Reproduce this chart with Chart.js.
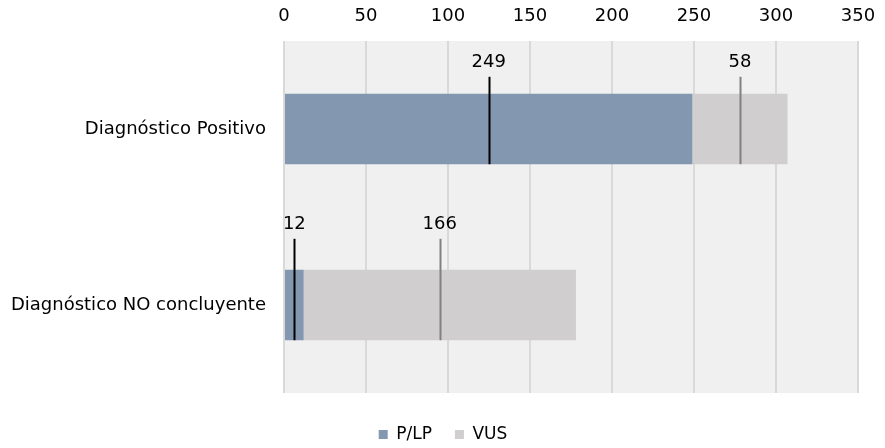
<!DOCTYPE html>
<html>
<head>
<meta charset="utf-8">
<script src="https://cdn.jsdelivr.net/npm/chart.js@4.4.0/dist/chart.umd.min.js"></script>
<style>
html,body{margin:0;padding:0;background:#fff;}
#c{display:block;}
</style>
</head>
<body>
<canvas id="c" width="885" height="448"></canvas>
<script>
const categories = ["Diagnóstico Positivo", "Diagnóstico NO concluyente"];
const seriesNames = ["P/LP", "VUS"];
const plpValues = [249, 12];
const vusValues = [58, 166];
const xTicks = [0, 50, 100, 150, 200, 250, 300, 350];

const FONT = "'DejaVu Sans', Verdana, sans-serif";

const plotBg = {
  id: 'plotBg',
  beforeDraw(chart) {
    const {ctx, chartArea: a} = chart;
    ctx.save();
    ctx.fillStyle = '#f0f0f0';
    ctx.fillRect(a.left, a.top, a.right - a.left, a.bottom - a.top);
    ctx.restore();
  }
};

const legendShift = {
  id: 'legendShift',
  afterLayout(chart, args, opts) {
    const lg = chart.legend;
    if (!lg) return;
    lg.left += opts.dx; lg.right += opts.dx;
    lg.top += opts.dy; lg.bottom += opts.dy;
  }
};

const leaderLabels = {
  id: 'leaderLabels',
  afterDatasetsDraw(chart, args, opts) {
    const ctx = chart.ctx;
    ctx.save();
    chart.data.datasets.forEach((ds, di) => {
      const meta = chart.getDatasetMeta(di);
      meta.data.forEach((el, i) => {
        const v = ds.data[i];
        const mid = (el.x + el.base) / 2;
        const top = el.y - el.height / 2;
        const bottom = el.y + el.height / 2;
        const off = opts.offsets[i];
        ctx.strokeStyle = opts.lineColors[di];
        ctx.lineWidth = 2;
        ctx.beginPath();
        ctx.moveTo(Math.round(mid) + 0.5, top - off[1]);
        ctx.lineTo(Math.round(mid) + 0.5, bottom);
        ctx.stroke();
        ctx.fillStyle = '#000';
        ctx.font = '18px ' + FONT;
        ctx.textAlign = 'center';
        ctx.textBaseline = 'middle';
        ctx.fillText(String(v), mid, top - off[0]);
      });
    });
    ctx.restore();
  }
};

new Chart(document.getElementById('c'), {
  type: 'bar',
  data: {
    labels: categories,
    datasets: [
      { label: seriesNames[0], data: plpValues, backgroundColor: '#8497b0', borderWidth: 0,
        barPercentage: 0.4, categoryPercentage: 1 },
      { label: seriesNames[1], data: vusValues, backgroundColor: '#d0cece', borderWidth: 0,
        barPercentage: 0.4, categoryPercentage: 1 }
    ]
  },
  options: {
    indexAxis: 'y',
    responsive: false,
    animation: false,
    layout: { padding: { top: 0, right: 27, bottom: 5, left: 0 } },
    scales: {
      x: {
        position: 'top',
        stacked: true,
        min: 0,
        max: 350,
        afterBuildTicks(scale) { scale.ticks = xTicks.map(v => ({ value: v })); },
        afterFit(scale) { scale.height = 41; scale.paddingLeft = 0; scale.paddingRight = 0; },
        ticks: { color: '#000', font: { family: FONT, size: 18 }, padding: 14 },
        grid: { color: '#d9d9d9', lineWidth: 2, drawTicks: false },
        border: { display: false }
      },
      y: {
        stacked: true,
        afterFit(scale) { scale.width = 284; },
        ticks: { color: '#000', font: { family: FONT, size: 18 }, padding: 18 },
        grid: { display: false, drawTicks: false },
        border: { display: false }
      }
    },
    plugins: {
      legend: {
        position: 'bottom',
        labels: {
          color: '#000',
          font: { family: FONT, size: 17 },
          boxWidth: 9,
          boxHeight: 9,
          padding: 23
        }
      },
      tooltip: { enabled: false },
      legendShift: { dx: 14, dy: 10 },
      leaderLabels: {
        offsets: [[31, 17], [45, 31]],
        lineColors: ['#000000', '#808080']
      }
    }
  },
  plugins: [plotBg, leaderLabels, legendShift]
});
</script>
</body>
</html>
